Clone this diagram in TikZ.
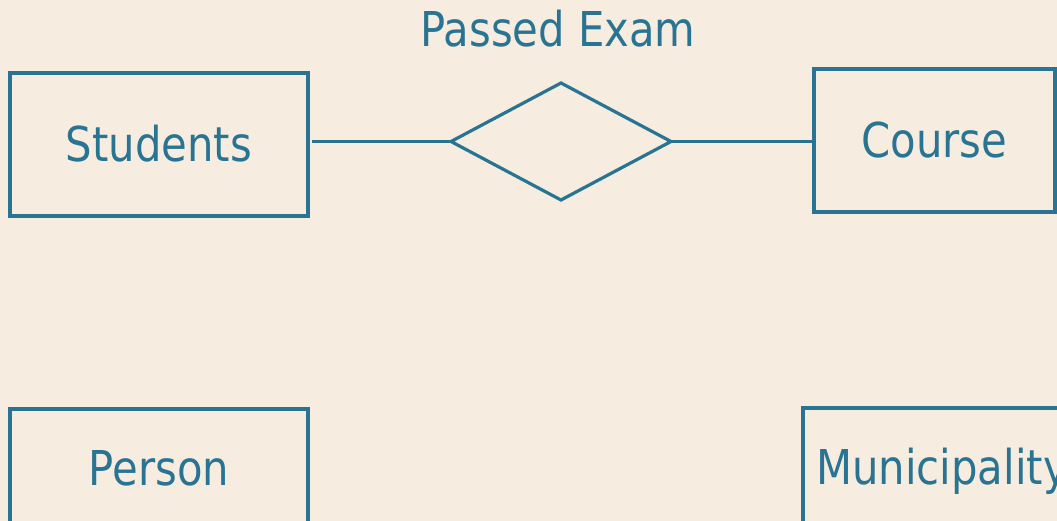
\documentclass[tikz,border=0pt]{standalone}
\usepackage{fontspec}
\setmainfont{DejaVu Sans}[FakeStretch=0.87]
\usetikzlibrary{shapes.geometric}
\definecolor{paper}{RGB}{246,237,224}
\definecolor{ink}{RGB}{41,116,146}
\tikzset{
  entity/.style={draw=ink, line width=3.6pt, rectangle, inner sep=0pt, outer sep=0pt,
    text=ink, font=\fontsize{48}{58}\selectfont, text height=35pt, text depth=0pt},
  relation/.style={draw=ink, line width=3.2pt, diamond, inner sep=0pt, outer sep=0pt,
    minimum width=220pt, minimum height=117pt},
  caption/.style={text=ink, font=\fontsize{48}{58}\selectfont, inner sep=0pt},
  link/.style={draw=ink, line width=3.2pt}
}
\begin{document}
\begin{tikzpicture}[x=1pt, y=-1pt]
  \fill[paper] (0,0) rectangle (1057,521);
  \useasboundingbox (0,0) rectangle (1057,521);
  \clip (0,0) rectangle (1057,521);

  % entity sets
  \node[entity, minimum width=298pt, minimum height=143pt] (students) at (159,144.5) {Students};
  \node[entity, minimum width=241pt, minimum height=143pt] (course) at (934.5,140.5) {Course};
  \node[entity, minimum width=298pt, minimum height=117pt] (person) at (159,467.5) {Person};
  \node[entity, minimum width=278pt, minimum height=117pt] (municipality) at (942,466.5) {Municipality};

  % relationship
  \node[relation] (passed) at (561,141.5) {};
  \node[caption, anchor=base] (passedlabel) at (558,46.7) {Passed Exam};

  % connectors
  \draw[link] ([xshift=4pt]students.east |- passed.west) -- (passed.west);
  \draw[link] (passed.east) -- (course.west |- passed.east);
\end{tikzpicture}
\end{document}
